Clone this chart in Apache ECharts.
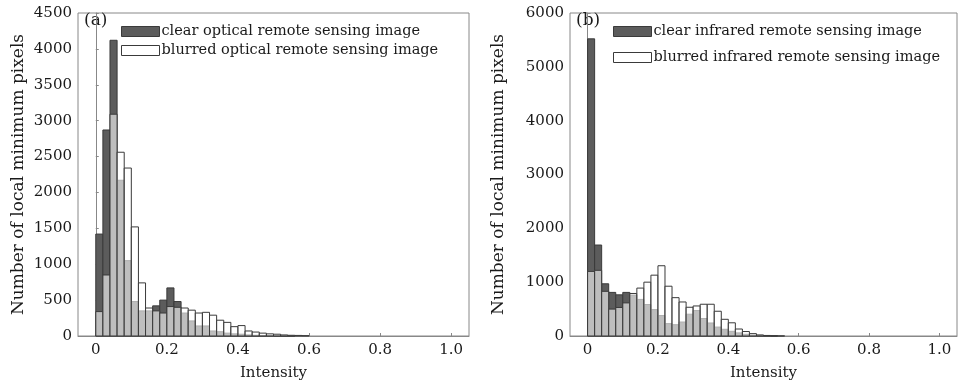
<!DOCTYPE html>
<html>
<head>
<meta charset="utf-8">
<script src="https://cdn.jsdelivr.net/npm/echarts@6/dist/echarts.min.js"></script>
<style>
  html, body { margin: 0; padding: 0; background: #fff; }
  #chart { width: 959px; height: 386px; }
</style>
</head>
<body>
<div id="chart"></div>
<script>
// left edge of each histogram bin (width 0.02)
const binStart = [0, 0.02, 0.04, 0.06, 0.08, 0.10, 0.12, 0.14, 0.16, 0.18,
  0.20, 0.22, 0.24, 0.26, 0.28, 0.30, 0.32, 0.34, 0.36, 0.38,
  0.40, 0.42, 0.44, 0.46, 0.48, 0.50, 0.52, 0.54, 0.56, 0.58]
const binWidth = 0.02

// (a) optical
const clearOptical = [1420, 2870, 4120, 2170, 1050, 480, 350, 350, 420, 500,
  670, 480, 320, 210, 140, 140, 70, 60, 40, 30,
  25, 15, 10, 5, 5, 3, 2, 2, 0, 0]
const blurredOptical = [340, 850, 3090, 2560, 2340, 1520, 740, 390, 350, 320,
  410, 400, 390, 360, 320, 330, 290, 220, 190, 130,
  145, 70, 55, 40, 30, 25, 15, 10, 8, 5]

// (b) infrared
const clearInfrared = [5520, 1690, 970, 810, 765, 810, 760, 680, 585, 490,
  380, 230, 210, 260, 405, 473, 325, 242, 166, 125,
  87, 58, 32, 15, 10, 5, 2, 0, 0, 0]
const blurredInfrared = [1200, 1220, 830, 500, 530, 615, 790, 890, 1000, 1130,
  1305, 925, 712, 632, 534, 558, 590, 590, 460, 310,
  245, 130, 83, 44, 20, 10, 5, 2, 0, 0]

const xTicks = [0, 0.2, 0.4, 0.6, 0.8, 1.0]
const namesA = ['clear optical remote sensing image', 'blurred optical remote sensing image']
const namesB = ['clear infrared remote sensing image', 'blurred infrared remote sensing image']

const FONT = 'DejaVu Serif'
const TEXT = '#1a1a1a'
const DARK = '#5c5c5c'
const EDGE = '#3a3a3a'
const VEIL = 'rgba(255,255,255,0.6)'

function toBins (values) {
  return values.map((v, i) => [binStart[i], binStart[i] + binWidth, v])
}

function barRender (fill) {
  return function (params, api) {
    const v = api.value(2)
    if (!v) return null
    const p0 = api.coord([api.value(0), v])
    const p1 = api.coord([api.value(1), 0])
    return {
      type: 'rect',
      shape: { x: p0[0], y: p0[1], width: p1[0] - p0[0], height: p1[1] - p0[1] },
      style: { fill: fill, stroke: EDGE, lineWidth: 1 }
    }
  }
}

function xAxisFor (idx) {
  return {
    type: 'value',
    gridIndex: idx,
    min: -0.05,
    max: 1.05,
    name: 'Intensity',
    nameLocation: 'middle',
    nameGap: 30,
    nameTextStyle: { fontFamily: FONT, fontSize: 15, color: TEXT },
    axisLine: { show: true, lineStyle: { color: '#888' } },
    axisTick: { show: true, inside: true, length: 3, customValues: xTicks, lineStyle: { color: '#888' } },
    axisLabel: {
      customValues: xTicks,
      fontFamily: FONT, fontSize: 15, color: TEXT, margin: 7,
      formatter: v => (v === 0 ? '0' : v.toFixed(1))
    },
    splitLine: { show: false }
  }
}

function yAxisFor (idx, max, step, gap) {
  return {
    type: 'value',
    gridIndex: idx,
    min: 0,
    max: max,
    interval: step,
    name: 'Number of local minimum pixels',
    nameLocation: 'middle',
    nameGap: gap,
    nameTextStyle: { fontFamily: FONT, fontSize: 17, color: TEXT },
    axisLine: { show: true, lineStyle: { color: '#888' } },
    axisTick: { show: true, inside: true, length: 3, lineStyle: { color: '#888' } },
    axisLabel: { fontFamily: FONT, fontSize: 15, color: TEXT, margin: 6, formatter: v => String(v) },
    splitLine: { show: false }
  }
}

function legendFor (names, left, top, gap) {
  return {
    left: left,
    top: top,
    orient: 'vertical',
    padding: 0,
    itemWidth: 38,
    itemHeight: 10,
    itemGap: gap,
    icon: 'rect',
    selectedMode: false,
    textStyle: { fontFamily: FONT, fontSize: 14.5, color: TEXT, padding: [0, 0, 0, -3] },
    data: [
      { name: names[0], itemStyle: { color: DARK, borderColor: EDGE, borderWidth: 1 } },
      { name: names[1], itemStyle: { color: '#fff', borderColor: EDGE, borderWidth: 1 } }
    ]
  }
}

const chart = echarts.init(document.getElementById('chart'), null, { renderer: 'canvas' })
chart.setOption({
  animation: false,
  backgroundColor: '#fff',
  grid: [
    { left: 78, top: 13, width: 391, height: 326, show: true, borderColor: '#888', borderWidth: 1 },
    { left: 570, top: 13, width: 387, height: 326, show: true, borderColor: '#888', borderWidth: 1 }
  ],
  xAxis: [xAxisFor(0), xAxisFor(1)],
  yAxis: [yAxisFor(0, 4500, 500, 51), yAxisFor(1, 6000, 1000, 63)],
  legend: [legendFor(namesA, 121, 24, 4), legendFor(namesB, 613, 24, 11)],
  graphic: [
    { type: 'text', left: 84, top: 12, style: { text: '(a)', font: '17px "DejaVu Serif"', fill: TEXT } },
    { type: 'text', left: 576, top: 12, style: { text: '(b)', font: '17px "DejaVu Serif"', fill: TEXT } }
  ],
  series: [
    {
      name: namesA[0], type: 'custom', xAxisIndex: 0, yAxisIndex: 0,
      itemStyle: { color: DARK }, encode: { x: [0, 1], y: 2 },
      renderItem: barRender(DARK), data: toBins(clearOptical)
    },
    {
      name: namesA[1], type: 'custom', xAxisIndex: 0, yAxisIndex: 0,
      itemStyle: { color: '#fff' }, encode: { x: [0, 1], y: 2 },
      renderItem: barRender(VEIL), data: toBins(blurredOptical)
    },
    {
      name: namesB[0], type: 'custom', xAxisIndex: 1, yAxisIndex: 1,
      itemStyle: { color: DARK }, encode: { x: [0, 1], y: 2 },
      renderItem: barRender(DARK), data: toBins(clearInfrared)
    },
    {
      name: namesB[1], type: 'custom', xAxisIndex: 1, yAxisIndex: 1,
      itemStyle: { color: '#fff' }, encode: { x: [0, 1], y: 2 },
      renderItem: barRender(VEIL), data: toBins(blurredInfrared)
    }
  ]
})
</script>
</body>
</html>
